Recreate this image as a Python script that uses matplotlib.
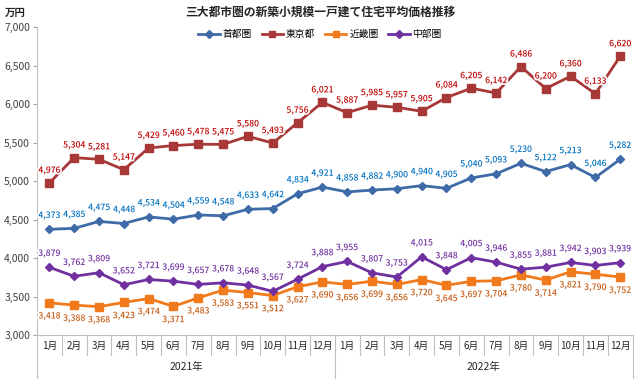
import numpy as np
import matplotlib
matplotlib.use("Agg")
import matplotlib.pyplot as plt
import matplotlib.patheffects as pe
import matplotlib.transforms as mtransforms

plt.rcParams['font.family'] = ['Noto Sans CJK JP', 'DejaVu Sans']

TITLE = "三大都市圏の新築小規模一戸建て住宅平均価格推移"
UNIT = "万円"
MONTHS = [f"{m}月" for m in range(1, 13)] * 2
YEARS = ["2021年", "2022年"]
NAMES = ["首都圏", "東京都", "近畿圏", "中部圏"]

# 万円, 2021/1 - 2022/12
shuto = [4373, 4385, 4475, 4448, 4534, 4504, 4559, 4548, 4633, 4642, 4834, 4921,
         4858, 4882, 4900, 4940, 4905, 5040, 5093, 5230, 5122, 5213, 5046, 5282]
tokyo = [4976, 5304, 5281, 5147, 5429, 5460, 5478, 5475, 5580, 5493, 5756, 6021,
         5887, 5985, 5957, 5905, 6084, 6205, 6142, 6486, 6200, 6360, 6133, 6620]
kinki = [3418, 3388, 3368, 3423, 3474, 3371, 3483, 3583, 3551, 3512, 3627, 3690,
         3656, 3699, 3656, 3720, 3645, 3697, 3704, 3780, 3714, 3821, 3790, 3752]
chubu = [3879, 3762, 3809, 3652, 3721, 3699, 3657, 3678, 3648, 3567, 3724, 3888,
         3955, 3807, 3753, 4015, 3848, 4005, 3946, 3855, 3881, 3942, 3903, 3939]

W, H = 640, 379
AX_L, AX_R, AX_T, AX_B = 37, 632.6, 27, 335

fig = plt.figure(figsize=(W / 100, H / 100), dpi=100)
ax = fig.add_axes([AX_L / W, 1 - AX_B / H, (AX_R - AX_L) / W, (AX_B - AX_T) / H])
ax_h = AX_B - AX_T

x = np.arange(len(MONTHS))

# line colour, marker, marker size, label colour, label offset (pt)
styles = [
    ("#3E6BA8", "D", 4.5, "#0070C0", 10),
    ("#A83838", "s", 6.0, "#C00000", 9),
    ("#F07A1C", "s", 6.0, "#C55A11", -9.5),
    ("#7030A0", "D", 4.5, "#7030A0", 10),
]

for name, vals, (lc, mk, ms, tc, off) in zip(NAMES, [shuto, tokyo, kinki, chubu], styles):
    ax.plot(x, vals, color=lc, lw=2.0, marker=mk, ms=ms, label=name, zorder=3)
    for i, v in enumerate(vals):
        ax.annotate(f"{v:,}", (i, v), xytext=(0, off), textcoords="offset points",
                    ha="center", va="center", fontsize=6.2, color=tc, zorder=4,
                    fontweight="medium",
                    path_effects=[pe.withStroke(linewidth=2.5, foreground="white")])

ax.set_xlim(-0.5, len(MONTHS) - 0.5)
ax.set_ylim(3000, 7000)
ax.set_yticks(np.arange(3000, 7001, 500))
ax.yaxis.set_major_formatter(matplotlib.ticker.FuncFormatter(lambda v, p: f"{int(v):,}"))
ax.tick_params(axis="y", length=3, color="#A6A6A6", labelsize=7.5, labelcolor="#404040", pad=2)
ax.set_xticks([])
for s in ["top", "right"]:
    ax.spines[s].set_visible(False)
for s in ["left", "bottom"]:
    ax.spines[s].set_color("#BFBFBF")
    ax.spines[s].set_linewidth(0.8)

# category axis boxes
trans = mtransforms.blended_transform_factory(ax.transData, ax.transAxes)
for b in np.arange(-0.5, len(MONTHS), 1):
    if b in (-0.5, 11.5, 23.5):
        yb = -(H - AX_B) / ax_h
    else:
        yb = -20 / ax_h
    ax.plot([b, b], [0, yb], transform=trans, clip_on=False, color="#BFBFBF", lw=0.8)
for i, m in enumerate(MONTHS):
    ax.text(i, -11 / ax_h, m, transform=trans, ha="center", va="center",
            fontsize=7, color="#262626")
for k, yr in enumerate(YEARS):
    ax.text(5.5 + 12 * k, -32 / ax_h, yr, transform=trans, ha="center", va="center",
            fontsize=7.5, color="#262626")

fig.text(0.5, 1 - 12 / H, TITLE, ha="center", va="center", fontsize=8.5,
         fontweight="bold", color="#262626")
fig.text(15 / W, 1 - 13 / H, UNIT, ha="center", va="center", fontsize=7.5,
         fontweight="bold", color="#262626")

fig.legend(loc="center", bbox_to_anchor=(0.5, 1 - 34 / H), ncol=4, frameon=False,
           fontsize=7, handlelength=2.2, columnspacing=1.0, handletextpad=0.3,
           markerscale=0.8)

fig.savefig("out.png", dpi=100)
